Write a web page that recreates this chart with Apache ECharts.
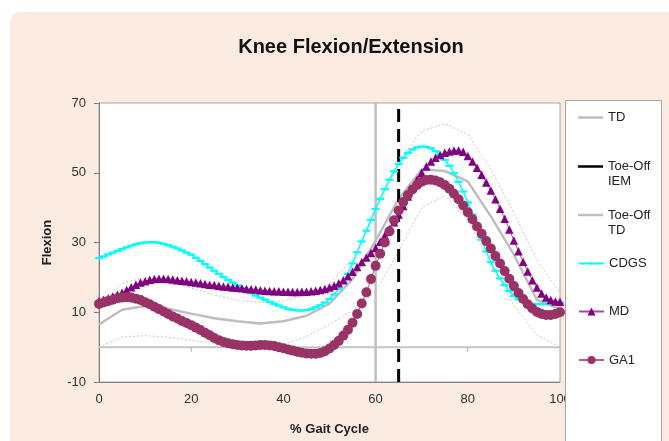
<!DOCTYPE html>
<html><head><meta charset="utf-8">
<script src="https://cdn.jsdelivr.net/npm/echarts@6/dist/echarts.min.js"></script>
<style>html,body{margin:0;padding:0;background:#fff}#c{width:669px;height:441px}</style>
</head><body><div id="c"></div>
<script>
const chartTitle = 'Knee Flexion/Extension';
const xAxisName = '% Gait Cycle';
const yAxisName = 'Flexion';
const xTicks = [0, 20, 40, 60, 80, 100];
const yTicks = [-10, 10, 30, 50, 70];
const zeroLineTicks = [20, 80];

// TD normative band (sampled every 5 %)
const tdPct   = [0,5,10,15,20,25,30,35,40,45,50,55,60,65,70,75,80,85,90,95,100];
const tdMean  = [6.5,10.7,11.8,11.0,9.6,8.3,7.4,6.8,7.4,9.0,12.5,19.5,30.5,42.5,51.0,50.5,47.5,37.5,26.5,13.5,11.0];
const tdUpper = [12.0,18.3,20.0,19.0,17.0,15.0,13.5,12.8,13.2,14.8,18.0,25.5,38.0,53.0,62.0,64.0,61.0,51.0,38.5,25.0,15.5];
const tdLower = [0.0,2.9,3.3,2.8,2.0,1.0,0.3,0.0,0.8,3.0,6.5,10.5,16.0,27.5,40.0,43.5,36.5,23.5,12.0,3.5,0.0];

// toe-off events (% gait cycle)
const toeOffTD = 60;
const toeOffIEM = 65;

// subject curves (every 1 % of gait cycle, 0..100)
const cdgs = [25.5,26.0,26.6,27.1,27.6,28.1,28.6,29.1,29.5,29.8,
  30.0,30.1,30.1,29.9,29.6,29.2,28.8,28.3,27.7,27.1,
  26.5,25.6,24.7,23.8,22.8,21.9,21.0,20.1,19.3,18.5,
  17.7,16.9,16.2,15.5,14.8,14.2,13.6,13.0,12.4,11.9,
  11.4,11.0,10.7,10.5,10.5,10.6,10.9,11.4,12.0,12.8,
  13.8,15.1,16.7,18.6,21.0,24.0,27.2,30.3,33.4,36.5,
  39.6,42.5,45.3,48.0,50.4,52.5,54.3,55.7,56.7,57.3,
  57.5,57.4,57.0,56.2,55.1,53.7,52.0,49.9,47.4,44.6,
  41.5,38.1,34.5,30.8,27.4,24.4,21.9,19.7,17.8,16.1,
  14.7,13.7,13.0,12.6,12.4,12.3,12.3,12.4,12.5,12.6,12.7];
const md = [13.2,13.6,14.0,14.5,15.0,15.6,16.4,17.2,17.9,18.5,
  18.9,19.3,19.5,19.6,19.6,19.5,19.4,19.2,19.0,18.9,
  18.7,18.5,18.3,18.1,17.9,17.8,17.6,17.4,17.3,17.1,
  17.0,16.9,16.7,16.6,16.5,16.3,16.2,16.1,16.0,16.0,
  15.9,15.9,15.8,15.8,15.9,15.9,16.0,16.2,16.4,16.7,
  17.1,17.6,18.3,19.2,20.3,21.6,23.0,24.4,25.7,27.0,
  28.4,30.2,32.0,33.8,35.8,38.0,40.5,43.2,45.8,48.0,
  50.0,51.8,53.2,54.3,55.1,55.7,56.1,56.4,56.4,56.0,
  54.8,53.2,51.4,49.4,47.2,44.9,42.4,39.7,36.8,33.7,
  30.6,27.5,24.5,21.7,19.2,17.1,15.4,14.2,13.5,13.1,13.0];
const ga1 = [12.4,12.8,13.2,13.6,14.0,14.2,14.3,14.2,13.9,13.5,
  12.9,12.3,11.6,10.9,10.2,9.5,8.8,8.2,7.5,6.9,
  6.3,5.6,4.9,4.1,3.4,2.6,2.0,1.5,1.1,0.8,
  0.6,0.5,0.4,0.4,0.5,0.6,0.6,0.5,0.3,0.0,
  -0.3,-0.7,-1.0,-1.3,-1.6,-1.8,-1.9,-1.9,-1.7,-1.2,
  -0.4,0.6,1.8,3.3,5.0,7.0,9.5,12.5,15.7,19.5,
  23.3,26.8,30.0,33.2,36.4,39.2,41.6,43.6,45.2,46.5,
  47.4,47.9,48.0,47.8,47.3,46.5,45.4,44.0,42.4,40.6,
  38.7,36.7,34.6,32.5,30.4,28.3,26.1,24.0,21.8,19.6,
  17.5,15.5,13.8,12.3,11.1,10.1,9.5,9.2,9.2,9.5,10.0];

const seriesNames = ['TD', 'Toe-Off\nIEM', 'Toe-Off\nTD', 'CDGS', 'MD', 'GA1'];

const FONT = '"Liberation Sans", Arial, sans-serif';
const pct = cdgs.map((_, i) => i);
const pairs = (xs, ys) => xs.map((x, i) => [x, ys[i]]);

const chart = echarts.init(document.getElementById('c'), null, {renderer: 'canvas'});

function legendFor(name, top, extra) {
  return Object.assign({
    data: [name],
    orient: 'vertical',
    left: 578,
    top: top,
    padding: 0,
    itemWidth: 25,
    itemHeight: 10,
    selectedMode: false,
    formatter: n => n.indexOf('\n') >= 0 ? ' \n' + n : n,
    textStyle: {fontFamily: FONT, fontSize: 13, color: '#222', lineHeight: 15}
  }, extra || {});
}

const option = {
  animation: false,
  backgroundColor: '#ffffff',
  title: {
    text: chartTitle,
    left: 346, top: 32, textAlign: 'center',
    textStyle: {fontFamily: FONT, fontSize: 20, fontWeight: 'bold', color: '#111'}
  },
  graphic: [
    {type: 'rect', z: -100, silent: true,
     shape: {x: 10, y: 12, width: 700, height: 480, r: 10},
     style: {fill: '#FBEBE0'}},
    {type: 'rect', z: 1, silent: true,
     shape: {x: 565.5, y: 100.5, width: 96, height: 360},
     style: {fill: '#ffffff', stroke: '#A6A6A6', lineWidth: 1}}
  ],
  legend: [
    legendFor(seriesNames[0], 110, {icon: 'rect', itemHeight: 2.5}),
    legendFor(seriesNames[1], 144, {icon: 'rect', itemHeight: 2.5}),
    legendFor(seriesNames[2], 192.5, {icon: 'rect', itemHeight: 2.5}),
    legendFor(seriesNames[3], 256, {itemHeight: 3}),
    legendFor(seriesNames[4], 304, {itemHeight: 10}),
    legendFor(seriesNames[5], 352.5, {itemHeight: 10})
  ],
  grid: {
    left: 99, right: 109, top: 103, bottom: 58,
    show: true, backgroundColor: '#ffffff', borderColor: '#A6A6A6', borderWidth: 1
  },
  xAxis: {
    type: 'value', min: xTicks[0], max: xTicks[xTicks.length - 1], interval: 20,
    name: xAxisName, nameLocation: 'middle', nameGap: 41,
    nameTextStyle: {fontFamily: FONT, fontSize: 13, fontWeight: 'bold', color: '#222'},
    axisLine: {show: true, onZero: false, lineStyle: {color: '#808080', width: 1}},
    axisTick: {show: false},
    axisLabel: {fontFamily: FONT, fontSize: 13, color: '#333', margin: 11},
    splitLine: {show: false}
  },
  yAxis: {
    type: 'value', min: yTicks[0], max: yTicks[yTicks.length - 1], interval: 20,
    name: yAxisName, nameLocation: 'middle', nameGap: 45,
    nameTextStyle: {fontFamily: FONT, fontSize: 13, fontWeight: 'bold', color: '#222'},
    axisLine: {show: true, onZero: false, lineStyle: {color: '#808080', width: 1}},
    axisTick: {show: true, length: 5, lineStyle: {color: '#808080'}},
    axisLabel: {fontFamily: FONT, fontSize: 13, color: '#333', margin: 13},
    splitLine: {show: false}
  },
  series: [
    {type: 'line', name: 'TD +1SD', data: pairs(tdPct, tdUpper), symbol: 'none', silent: true, z: 1,
     lineStyle: {color: '#C8C8C8', width: 1, type: [2, 2]}},
    {type: 'line', name: 'TD -1SD', data: pairs(tdPct, tdLower), symbol: 'none', silent: true, z: 1,
     lineStyle: {color: '#C8C8C8', width: 1, type: [2, 2]}},
    {type: 'line', name: 'zero', data: [[0, 0], [100, 0]], symbol: 'none', silent: true, z: 1,
     lineStyle: {color: '#C4C4C4', width: 2}},
    {type: 'scatter', name: 'zero ticks', data: zeroLineTicks.map(x => [x, 0]), silent: true, z: 1,
     symbol: 'rect', symbolSize: [1, 4], symbolOffset: [0, 2.5], itemStyle: {color: '#999999'}},
    {type: 'line', name: seriesNames[0], data: pairs(tdPct, tdMean), symbol: 'none', z: 2,
     itemStyle: {color: '#BEBEBE'}, lineStyle: {color: '#BEBEBE', width: 2.5}},
    {type: 'line', name: seriesNames[1], data: [[toeOffIEM, yTicks[0]], [toeOffIEM, yTicks[yTicks.length - 1]]],
     symbol: 'none', z: 2,
     itemStyle: {color: '#000000'}, lineStyle: {color: '#000000', width: 3, type: [13, 7]}},
    {type: 'line', name: seriesNames[2], data: [[toeOffTD, yTicks[0]], [toeOffTD, yTicks[yTicks.length - 1]]],
     symbol: 'none', z: 2,
     itemStyle: {color: '#C0C0C0'}, lineStyle: {color: '#C0C0C0', width: 2.5}},
    {type: 'line', name: seriesNames[3], data: pairs(pct, cdgs), z: 3,
     symbol: 'rect', symbolSize: [8, 2.2], showAllSymbol: true,
     itemStyle: {color: '#00FFFF'}, lineStyle: {color: '#00FFFF', width: 1.5}},
    {type: 'line', name: seriesNames[4], data: pairs(pct, md), z: 4,
     symbol: 'triangle', symbolSize: 8.5, showAllSymbol: true,
     itemStyle: {color: '#800080'}, lineStyle: {color: '#A04AA6', width: 1}},
    {type: 'line', name: seriesNames[5], data: pairs(pct, ga1), z: 5,
     symbol: 'circle', symbolSize: 10, showAllSymbol: true,
     itemStyle: {color: '#993366'}, lineStyle: {color: '#B0608A', width: 1}}
  ]
};
chart.setOption(option);
</script>
</body></html>
